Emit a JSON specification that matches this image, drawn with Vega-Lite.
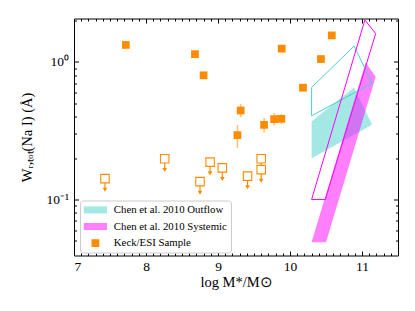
{
  "$schema": "https://vega.github.io/schema/vega-lite/v6.json",
  "width": 324,
  "height": 237,
  "autosize": {"type": "none"},
  "padding": {"left": 74, "top": 18.5, "right": 17, "bottom": 55.5},
  "background": "white",
  "config": {
    "view": {"stroke": "black", "strokeWidth": 1},
    "axis": {"domain": false, "grid": false, "tickColor": "black", "tickWidth": 1, "labelColor": "black", "titleColor": "black", "labelFont": "Liberation Serif", "titleFont": "Liberation Serif", "labelFontSize": 13.5, "titleFontSize": 14.5, "titleFontWeight": "normal"}
  },
  "datasets": {
    "poly": [
      {"kind": "fill", "g": "cyanFill", "series": "Chen et al. 2010 Outflow", "o": 0, "x": 10.30, "y": 0.369},
      {"kind": "fill", "g": "cyanFill", "series": "Chen et al. 2010 Outflow", "o": 1, "x": 10.89, "y": 0.652},
      {"kind": "fill", "g": "cyanFill", "series": "Chen et al. 2010 Outflow", "o": 2, "x": 11.14, "y": 0.349},
      {"kind": "fill", "g": "cyanFill", "series": "Chen et al. 2010 Outflow", "o": 3, "x": 10.30, "y": 0.200},
      {"kind": "fill", "g": "cyanFill", "series": "Chen et al. 2010 Outflow", "o": 4, "x": 10.30, "y": 0.369},
      {"kind": "fill", "g": "magFill", "series": "Chen et al. 2010 Systemic", "o": 0, "x": 10.30, "y": 0.049},
      {"kind": "fill", "g": "magFill", "series": "Chen et al. 2010 Systemic", "o": 1, "x": 11.05, "y": 0.99},
      {"kind": "fill", "g": "magFill", "series": "Chen et al. 2010 Systemic", "o": 2, "x": 11.19, "y": 0.78},
      {"kind": "fill", "g": "magFill", "series": "Chen et al. 2010 Systemic", "o": 3, "x": 10.50, "y": 0.049},
      {"kind": "fill", "g": "magFill", "series": "Chen et al. 2010 Systemic", "o": 4, "x": 10.30, "y": 0.049},
      {"kind": "line", "g": "cyanLine", "o": 0, "x": 10.30, "y": 0.652},
      {"kind": "line", "g": "cyanLine", "o": 1, "x": 10.89, "y": 1.306},
      {"kind": "line", "g": "cyanLine", "o": 2, "x": 11.14, "y": 0.701},
      {"kind": "line", "g": "cyanLine", "o": 3, "x": 10.30, "y": 0.406},
      {"kind": "line", "g": "cyanLine", "o": 4, "x": 10.30, "y": 0.652},
      {"kind": "line", "g": "magLine", "o": 0, "x": 10.30, "y": 0.1},
      {"kind": "line", "g": "magLine", "o": 1, "x": 11.04, "y": 2.02},
      {"kind": "line", "g": "magLine", "o": 2, "x": 11.19, "y": 1.61},
      {"kind": "line", "g": "magLine", "o": 3, "x": 10.49, "y": 0.1},
      {"kind": "line", "g": "magLine", "o": 4, "x": 10.30, "y": 0.1}
    ],
    "det": [
      {"series": "Keck/ESI Sample", "x": 7.72, "y": 1.33, "lo": 1.30, "hi": 1.36},
      {"series": "Keck/ESI Sample", "x": 8.68, "y": 1.14, "lo": 1.11, "hi": 1.17},
      {"series": "Keck/ESI Sample", "x": 8.80, "y": 0.80, "lo": 0.78, "hi": 0.82},
      {"series": "Keck/ESI Sample", "x": 9.885, "y": 1.25, "lo": 1.22, "hi": 1.28},
      {"series": "Keck/ESI Sample", "x": 10.58, "y": 1.56, "lo": 1.52, "hi": 1.60},
      {"series": "Keck/ESI Sample", "x": 10.43, "y": 1.05, "lo": 1.02, "hi": 1.08},
      {"series": "Keck/ESI Sample", "x": 10.18, "y": 0.65, "lo": 0.63, "hi": 0.67},
      {"series": "Keck/ESI Sample", "x": 9.315, "y": 0.444, "lo": 0.397, "hi": 0.494},
      {"series": "Keck/ESI Sample", "x": 9.27, "y": 0.294, "lo": 0.237, "hi": 0.349},
      {"series": "Keck/ESI Sample", "x": 9.64, "y": 0.349, "lo": 0.307, "hi": 0.391},
      {"series": "Keck/ESI Sample", "x": 9.78, "y": 0.384, "lo": 0.346, "hi": 0.425},
      {"series": "Keck/ESI Sample", "x": 9.88, "y": 0.386, "lo": 0.355, "hi": 0.418}
    ],
    "lim": [
      {"x": 7.43, "y": 0.142, "tip": 0.118},
      {"x": 8.26, "y": 0.198, "tip": 0.164},
      {"x": 8.75, "y": 0.135, "tip": 0.112},
      {"x": 8.89, "y": 0.187, "tip": 0.155},
      {"x": 9.06, "y": 0.170, "tip": 0.141},
      {"x": 9.41, "y": 0.148, "tip": 0.123},
      {"x": 9.60, "y": 0.198, "tip": 0.164},
      {"x": 9.60, "y": 0.165, "tip": 0.137}
    ]
  },
  "resolve": {"axis": {"x": "independent", "y": "independent"}},
  "layer": [
    {
      "data": {"name": "det"},
      "mark": {"type": "rule", "color": "#ff8c00", "opacity": 0.55, "strokeWidth": 1.5},
      "encoding": {
        "x": {"field": "x", "type": "quantitative", "scale": {"domain": [7, 11.5], "nice": false, "zero": false},
              "axis": {"orient": "top", "values": [7, 8, 9, 10, 11], "tickSize": -4.5, "labels": false, "title": null}},
        "y": {"field": "lo", "type": "quantitative", "scale": {"type": "log", "domain": [0.0392, 2.07], "nice": false},
              "axis": {"orient": "right", "values": [0.1, 1], "tickSize": -4.5, "labels": false, "title": null}},
        "y2": {"field": "hi"}
      }
    },
    {
      "data": {"name": "det"},
      "mark": {"type": "point", "filled": true, "opacity": 1, "size": 60},
      "encoding": {
        "x": {"field": "x", "type": "quantitative",
              "axis": {"orient": "bottom", "values": [7, 8, 9, 10, 11], "format": "d", "tickSize": -4.5, "labelPadding": 8, "title": "log M*/M⊙", "titlePadding": 3}},
        "y": {"field": "y", "type": "quantitative",
              "axis": {"orient": "left", "values": [0.1, 1], "labelExpr": "datum.value >= 1 ? '10⁰' : '10⁻¹'", "tickSize": -4.5, "labelPadding": 10, "title": "Wᵣ,ₜₒₜ(Na I) (Å)", "titlePadding": 11}},
        "fill": {"field": "series", "type": "nominal",
                 "scale": {"domain": ["Chen et al. 2010 Outflow", "Chen et al. 2010 Systemic", "Keck/ESI Sample"], "range": ["rgba(72,209,204,0.5)", "rgba(255,0,255,0.5)", "#ff8c00"]},
                 "legend": {"title": null, "orient": "none", "legendX": 6, "legendY": 182, "padding": 4, "strokeColor": "#cccccc", "fillColor": "white", "cornerRadius": 3, "labelFont": "Liberation Serif", "labelFontSize": 10.8, "labelColor": "black", "symbolSize": 60, "rowPadding": 4.6, "symbolOffset": 6, "labelOffset": 13, "symbolStrokeWidth": 0, "symbolOpacity": 1}},
        "shape": {"field": "series", "type": "nominal",
                  "scale": {"domain": ["Chen et al. 2010 Outflow", "Chen et al. 2010 Systemic", "Keck/ESI Sample"], "range": ["M-3,-0.9H3V0.9H-3Z", "M-3,-0.9H3V0.9H-3Z", "M-1,-1H1V1H-1Z"]},
                  "legend": {"title": null, "orient": "none", "legendX": 6, "legendY": 182, "padding": 4, "strokeColor": "#cccccc", "fillColor": "white", "cornerRadius": 3, "labelFont": "Liberation Serif", "labelFontSize": 10.8, "labelColor": "black", "symbolSize": 60, "rowPadding": 4.6, "symbolOffset": 6, "labelOffset": 13, "symbolStrokeWidth": 0, "symbolOpacity": 1}}
      }
    },
    {
      "data": {"name": "poly"},
      "transform": [{"filter": "datum.kind == 'fill'"}],
      "mark": {"type": "line", "strokeOpacity": 0, "clip": true},
      "encoding": {
        "x": {"field": "x", "type": "quantitative",
              "axis": {"orient": "bottom", "values": [7.1,7.2,7.3,7.4,7.5,7.6,7.7,7.8,7.9,8.1,8.2,8.3,8.4,8.5,8.6,8.7,8.8,8.9,9.1,9.2,9.3,9.4,9.5,9.6,9.7,9.8,9.9,10.1,10.2,10.3,10.4,10.5,10.6,10.7,10.8,10.9,11.1,11.2,11.3,11.4], "tickSize": -2.5, "labels": false, "title": null}},
        "y": {"field": "y", "type": "quantitative",
              "axis": {"orient": "left", "values": [0.05,0.06,0.07,0.08,0.09,0.2,0.3,0.4,0.5,0.6,0.7,0.8,0.9,2], "tickSize": -2.5, "labels": false, "title": null}},
        "fill": {"field": "series", "type": "nominal"},
        "detail": {"field": "g"},
        "order": {"field": "o", "type": "quantitative"}
      }
    },
    {
      "data": {"name": "poly"},
      "transform": [{"filter": "datum.kind == 'line'"}],
      "mark": {"type": "line", "strokeWidth": 1, "clip": true},
      "encoding": {
        "x": {"field": "x", "type": "quantitative",
              "axis": {"orient": "top", "values": [7.1,7.2,7.3,7.4,7.5,7.6,7.7,7.8,7.9,8.1,8.2,8.3,8.4,8.5,8.6,8.7,8.8,8.9,9.1,9.2,9.3,9.4,9.5,9.6,9.7,9.8,9.9,10.1,10.2,10.3,10.4,10.5,10.6,10.7,10.8,10.9,11.1,11.2,11.3,11.4], "tickSize": -2.5, "labels": false, "title": null}},
        "y": {"field": "y", "type": "quantitative",
              "axis": {"orient": "right", "values": [0.05,0.06,0.07,0.08,0.09,0.2,0.3,0.4,0.5,0.6,0.7,0.8,0.9,2], "tickSize": -2.5, "labels": false, "title": null}},
        "stroke": {"field": "g", "type": "nominal", "scale": {"domain": ["cyanLine", "magLine"], "range": ["#48d1cc", "#ff00ff"]}, "legend": null},
        "order": {"field": "o", "type": "quantitative"}
      }
    },
    {
      "data": {"name": "lim"},
      "mark": {"type": "rule", "color": "#ff8c00", "strokeWidth": 1.2},
      "encoding": {
        "x": {"field": "x", "type": "quantitative", "axis": null},
        "y": {"field": "y", "type": "quantitative", "axis": null},
        "y2": {"field": "tip"}
      }
    },
    {
      "data": {"name": "lim"},
      "mark": {"type": "point", "shape": "triangle-down", "filled": true, "color": "#ff8c00", "opacity": 1, "size": 22},
      "encoding": {
        "x": {"field": "x", "type": "quantitative", "axis": null},
        "y": {"field": "tip", "type": "quantitative", "axis": null}
      }
    },
    {
      "data": {"name": "lim"},
      "mark": {"type": "square", "filled": false, "fill": "white", "fillOpacity": 1, "stroke": "#ff8c00", "strokeWidth": 1.1, "opacity": 1, "size": 72},
      "encoding": {
        "x": {"field": "x", "type": "quantitative", "axis": null},
        "y": {"field": "y", "type": "quantitative", "axis": null}
      }
    }
  ]
}
